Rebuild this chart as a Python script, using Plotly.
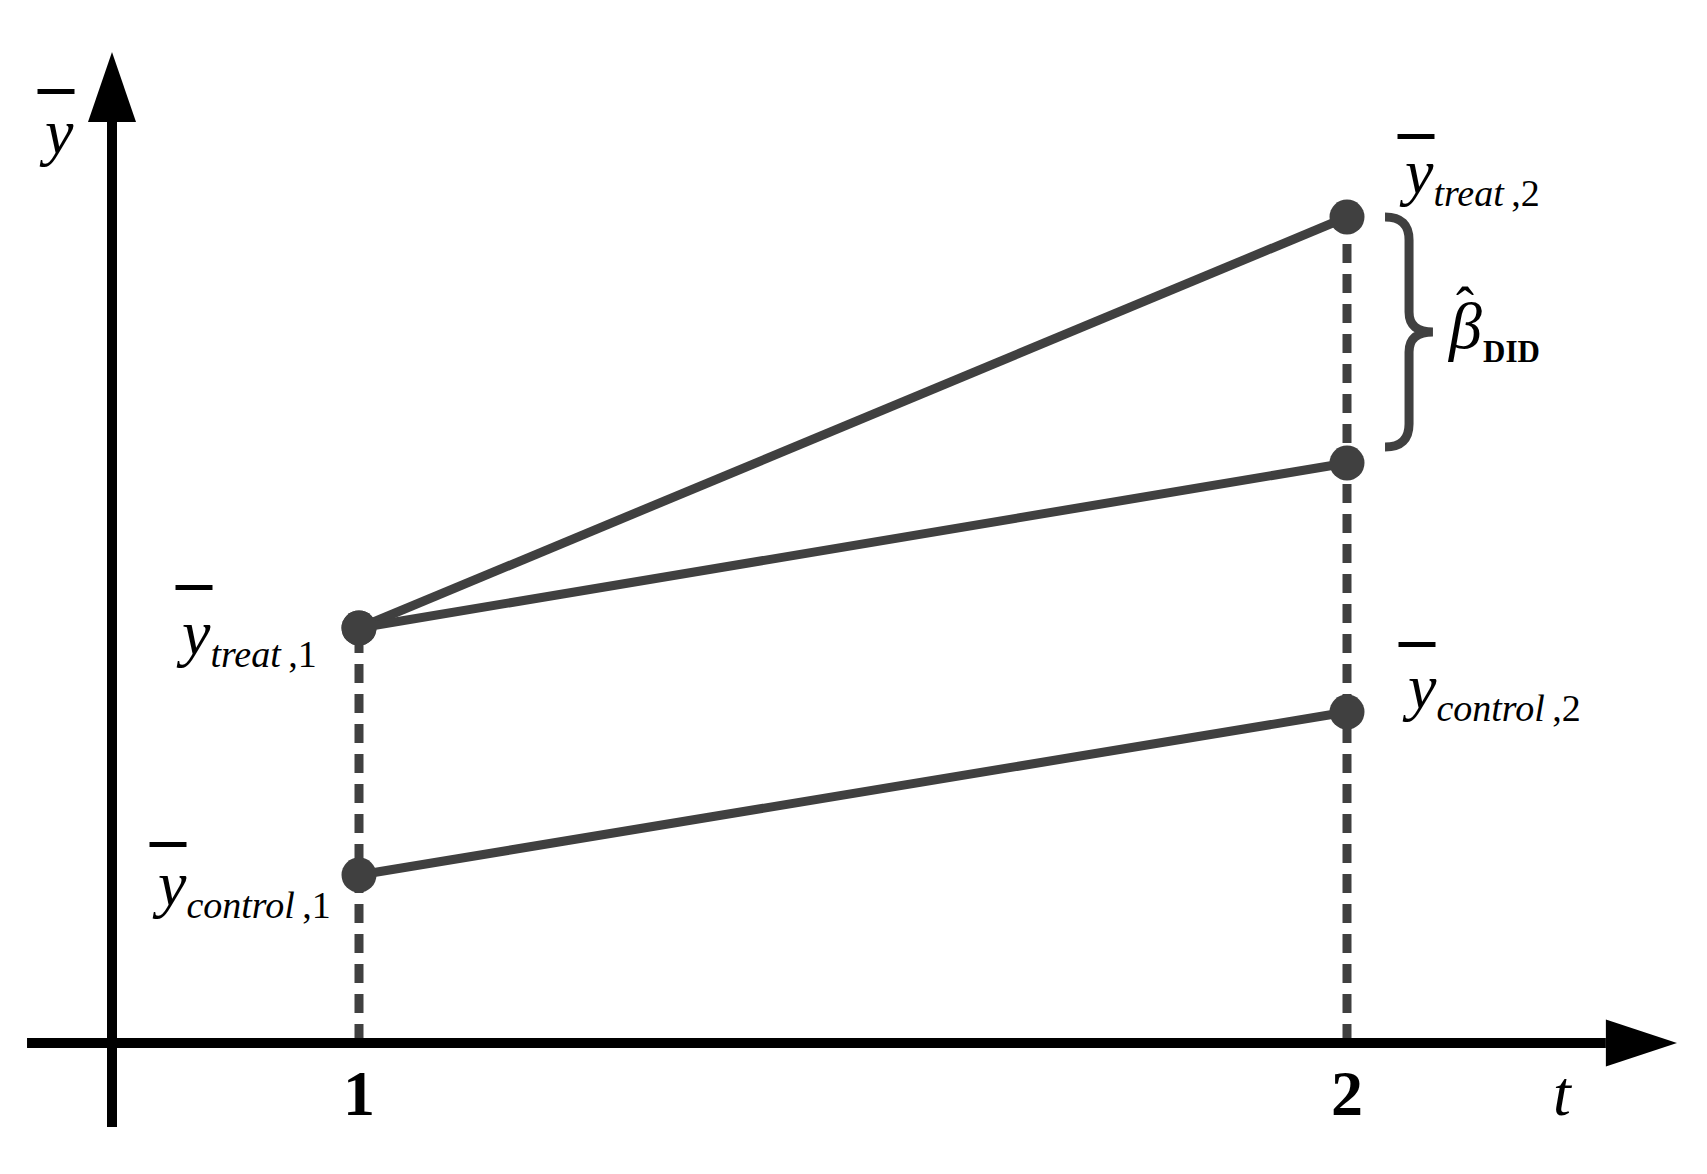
import plotly.graph_objects as go

# Dados do diagrama de diferenças em diferenças
periodos = [1, 2]
rotulos_periodo = ["1", "2"]
y_treat = [4.15, 8.26]
y_control = [1.68, 3.31]
y_contrafactual = [4.15, 5.80]

COR = "#404040"
FONTE = "Liberation Serif"

# Geometria dos eixos (em unidades dos dados)
X_EIXO_Y = 0.75
X_INI, X_FIM, X_PONTA = 0.664, 2.262, 2.334
Y_INI, Y_FIM, Y_PONTA = -0.84, 9.21, 9.91

fig = go.Figure()

# Linhas verticais tracejadas
for t, topo in zip(periodos, y_treat):
    fig.add_trace(go.Scatter(
        x=[t, t], y=[0, topo], mode="lines",
        line=dict(color=COR, width=9, dash="19px,11px"),
        hoverinfo="skip"
    ))

# Linhas dos grupos
for serie in [y_treat, y_contrafactual, y_control]:
    fig.add_trace(go.Scatter(
        x=periodos, y=serie, mode="lines+markers",
        line=dict(color=COR, width=9),
        marker=dict(color=COR, size=35)
    ))

# Eixos com setas
shapes = [
    dict(type="line", x0=X_INI, y0=0, x1=X_FIM, y1=0,
         line=dict(color="black", width=10)),
    dict(type="path", fillcolor="black", line=dict(width=0),
         path=f"M {X_FIM},0.235 L {X_PONTA},0 L {X_FIM},-0.235 Z"),
    dict(type="line", x0=X_EIXO_Y, y0=Y_INI, x1=X_EIXO_Y, y1=Y_FIM,
         line=dict(color="black", width=10)),
    dict(type="path", fillcolor="black", line=dict(width=0),
         path=f"M {X_EIXO_Y - 0.0243},{Y_FIM} L {X_EIXO_Y},{Y_PONTA} "
              f"L {X_EIXO_Y + 0.0243},{Y_FIM} Z"),
]

# Chave do beta DID
topo = y_treat[1]
base = y_contrafactual[1] + 0.16
meio = (topo + base) / 2
xl, xs, xt = 2.0385, 2.0628, 2.087
shapes.append(dict(
    type="path", line=dict(color=COR, width=9),
    path=(f"M {xl},{topo} Q {xs},{topo} {xs},{topo - 0.23} "
          f"L {xs},{meio + 0.2} Q {xs},{meio} {xt},{meio} "
          f"Q {xs},{meio} {xs},{meio - 0.2} "
          f"L {xs},{base + 0.23} Q {xs},{base} {xl},{base}")
))


def sub(txt):
    return f"<sub><span style='font-size:38px'>{txt}</span></sub>"


def rotulo(x, y, texto, xs_, ys_, anchor, size=64):
    return dict(x=x, y=y, text=texto, showarrow=False, xanchor=anchor,
                yanchor="middle", xshift=xs_, yshift=ys_,
                font=dict(family=FONTE, size=size, color="black"))


barra = "<b>\u2013</b>"
annotations = [
    # eixo y
    rotulo(X_EIXO_Y, Y_FIM, "<i>y</i>", -56, -9, "center"),
    rotulo(X_EIXO_Y, Y_FIM, barra, -56, 38, "center", 72),
    # treat 2
    rotulo(periodos[1], y_treat[1], "<i>y</i>" + sub("<i>treat</i>\u2009,2"), 50, 42, "left"),
    rotulo(periodos[1], y_treat[1], barra, 69, 88, "center", 72),
    # treat 1
    rotulo(periodos[0], y_treat[0], "<i>y</i>" + sub("<i>treat</i>\u2009,1"), -40, -8, "right"),
    rotulo(periodos[0], y_treat[0], barra, -165, 48, "center", 72),
    # control 1
    rotulo(periodos[0], y_control[0], "<i>y</i>" + sub("<i>control</i>\u2009,1"), -26, -12, "right"),
    rotulo(periodos[0], y_control[0], barra, -191, 38, "center", 72),
    # control 2
    rotulo(periodos[1], y_control[1], "<i>y</i>" + sub("<i>control</i>\u2009,2"), 53, 22, "left"),
    rotulo(periodos[1], y_control[1], barra, 70, 75, "center", 72),
    # beta DID
    rotulo(periodos[1], meio, "<i>\u03b2</i>", 98, 7, "left", 66),
    rotulo(periodos[1], meio, "<b>DID</b>", 134, -19, "left", 31),
    rotulo(periodos[1], meio, "\u02c6", 118, 25, "center", 54),
    # eixo t
    rotulo(X_PONTA, 0, "<i>t</i>", -114, -50, "center"),
]
for t, r in zip(periodos, rotulos_periodo):
    annotations.append(rotulo(t, 0, f"<b>{r}</b>", 0, -50, "center"))

# a página tem 8px de margem: a figura ocupa 1691x1158 a partir de (8, 8)
fig.update_layout(
    width=1691, height=1158,
    margin=dict(l=0, r=0, t=0, b=0),
    plot_bgcolor="white", paper_bgcolor="white",
    showlegend=False,
    xaxis=dict(range=[0.64474, 2.35628], visible=False, fixedrange=True),
    yaxis=dict(range=[-1.23, 10.35], visible=False, fixedrange=True),
    shapes=shapes,
    annotations=annotations,
)

fig.write_html("out.html")
